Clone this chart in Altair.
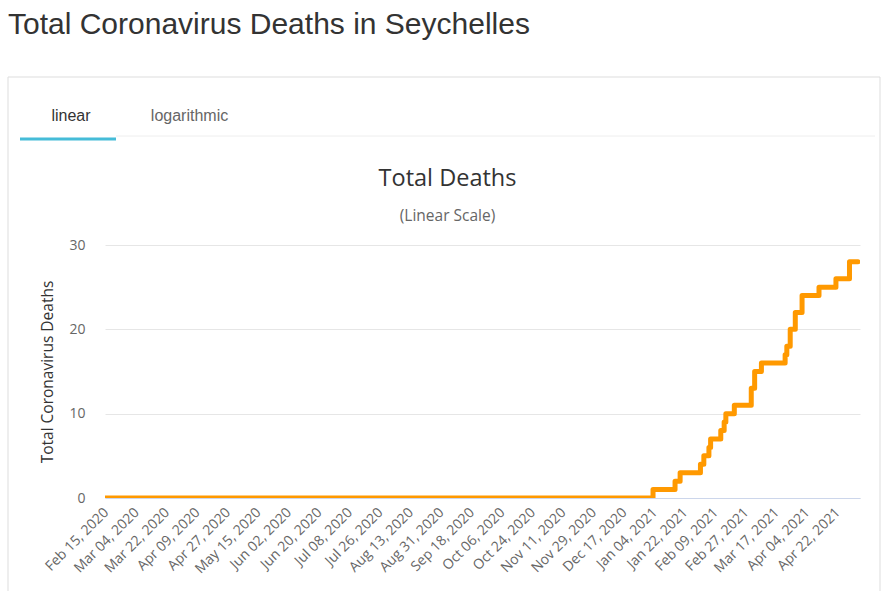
import altair as alt
import pandas as pd

# ---- data ----
dates = ["2020-02-15", "2021-01-03", "2021-01-16", "2021-01-19", "2021-01-31",
         "2021-02-02", "2021-02-05", "2021-02-06", "2021-02-12", "2021-02-14",
         "2021-02-15", "2021-02-20", "2021-03-02", "2021-03-04", "2021-03-08",
         "2021-03-22", "2021-03-23", "2021-03-25", "2021-03-28", "2021-04-01",
         "2021-04-11", "2021-04-21", "2021-04-29", "2021-05-04"]
deaths = [0, 1, 2, 3, 4,
          5, 6, 7, 8, 9,
          10, 11, 13, 15, 16,
          17, 18, 20, 22, 24,
          25, 26, 28, 28]

tick_dates = ["2020-02-15", "2020-03-04", "2020-03-22", "2020-04-09", "2020-04-27",
              "2020-05-15", "2020-06-02", "2020-06-20", "2020-07-08", "2020-07-26",
              "2020-08-13", "2020-08-31", "2020-09-18", "2020-10-06", "2020-10-24",
              "2020-11-11", "2020-11-29", "2020-12-17", "2021-01-04", "2021-01-22",
              "2021-02-09", "2021-02-27", "2021-03-17", "2021-04-04", "2021-04-22"]
y_ticks = [0, 10, 20, 30]

page_title = "Total Coronavirus Deaths in Seychelles"
tab_labels = ["linear", "logarithmic"]
chart_title = "Total Deaths"
chart_subtitle = "(Linear Scale)"
y_title = "Total Coronavirus Deaths"

df = pd.DataFrame({"date": dates, "deaths": deaths})


def dt(s, hours=0):
    y, m, d = (int(p) for p in s.split("-"))
    return alt.DateTime(year=y, month=m, date=d, hours=hours, utc=True)


tick_values = [dt(s) for s in tick_dates]
x_scale = alt.Scale(type="utc", domain=[dt("2020-02-14", 10), dt("2021-05-05", 5)])

FONT = "Open Sans"
PAGE_FONT = "Liberation Sans"

line = alt.Chart(df).mark_line(
    interpolate="step-after", strokeWidth=5, color="#FF9900",
    strokeCap="round", strokeJoin="round", clip=True
).encode(
    x=alt.X("date:T", scale=x_scale, axis=alt.Axis(
        values=tick_values, format="%b %d, %Y", labelAngle=315,
        labelAlign="right", labelBaseline="middle", labelPadding=12,
        ticks=False, tickSize=0, domainColor="#ccd6eb", domainWidth=1,
        grid=False, labelFont=FONT, labelFontSize=14, labelColor="#666666",
        title=None, labelOverlap=False, labelFlush=False, zindex=1)),
    y=alt.Y("deaths:Q", scale=alt.Scale(domain=[0, 30], nice=False), axis=alt.Axis(
        values=y_ticks, title=y_title, titleFont=FONT, titleFontSize=15.5,
        titleFontWeight="normal", titleColor="#333333", titlePadding=13,
        labelFont=FONT, labelFontSize=14, labelColor="#666666", labelPadding=20,
        ticks=False, tickSize=0, domain=False, gridColor="#e6e6e6", zindex=0)),
)

one = alt.Data(values=[{}])

box = alt.Chart(one).mark_rect(fillOpacity=0, stroke="#dddddd", strokeWidth=1).encode(
    x=alt.value(-97), x2=alt.value(775), y=alt.value(-168), y2=alt.value(380))

heading = alt.Chart(one).mark_text(
    text=page_title, align="left", baseline="alphabetic", font=PAGE_FONT,
    fontSize=30, color="#333333").encode(x=alt.value(-97), y=alt.value(-211))

tab1 = alt.Chart(one).mark_text(
    text=tab_labels[0], align="center", baseline="alphabetic", font=PAGE_FONT,
    fontSize=16, color="#333333").encode(x=alt.value(-34), y=alt.value(-124))
tab2 = alt.Chart(one).mark_text(
    text=tab_labels[1], align="center", baseline="alphabetic", font=PAGE_FONT,
    fontSize=16, color="#666666").encode(x=alt.value(84.5), y=alt.value(-124))

tab_line = alt.Chart(one).mark_rule(color="#eeeeee", strokeWidth=1).encode(
    x=alt.value(11), x2=alt.value(770), y=alt.value(-109))
tab_under = alt.Chart(one).mark_rule(color="#45bcd8", strokeWidth=3).encode(
    x=alt.value(-85), x2=alt.value(11), y=alt.value(-106))

title = alt.Chart(one).mark_text(
    text=chart_title, align="center", baseline="alphabetic", font=FONT,
    fontSize=23.5, color="#333333").encode(x=alt.value(342.5), y=alt.value(-59))
subtitle = alt.Chart(one).mark_text(
    text=chart_subtitle, align="center", baseline="alphabetic", font=FONT,
    fontSize=15.5, color="#666666").encode(x=alt.value(342.5), y=alt.value(-24))

chart = alt.layer(
    box, heading, tab_line, tab_under, tab1, tab2, title, subtitle, line
).properties(
    width=755, height=253,
    autosize=alt.AutoSizeParams(type="none"),
    padding={"left": 105, "top": 245, "right": 27, "bottom": 93},
    background="white",
).configure_view(stroke=None)

chart.save("out.html", embed_options={"renderer": "svg", "actions": False})
